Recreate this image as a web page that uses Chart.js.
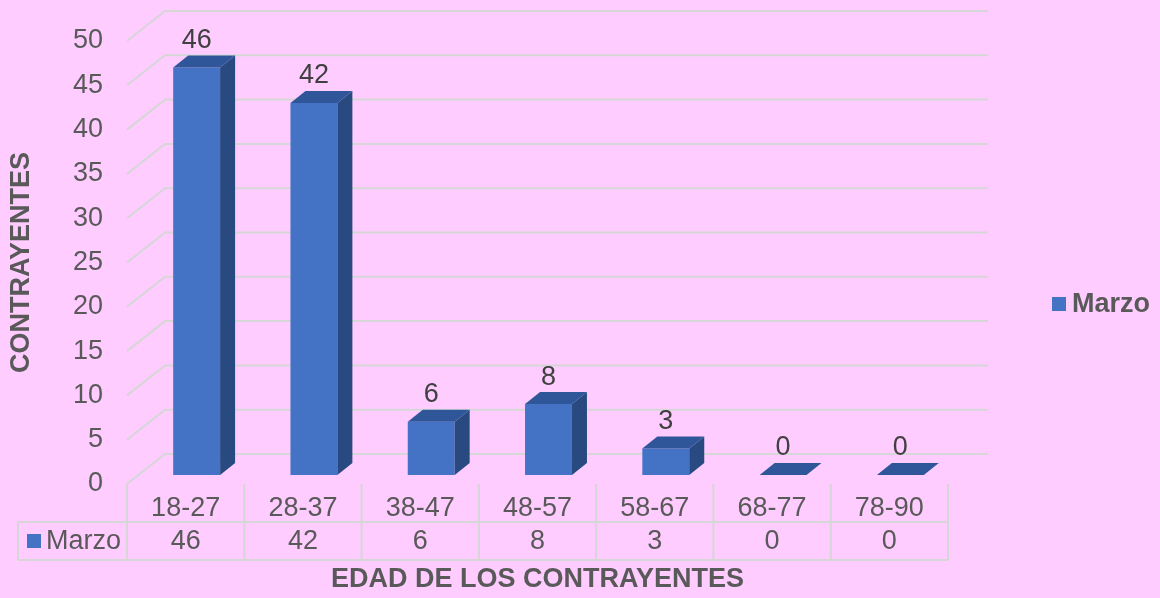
<!DOCTYPE html>
<html>
<head>
<meta charset="utf-8">
<script src="https://cdn.jsdelivr.net/npm/chart.js@4.4.1/dist/chart.umd.min.js"></script>
<style>
  html, body { margin: 0; padding: 0; background: #ffccff; }
  #wrap { width: 1160px; height: 598px; }
</style>
</head>
<body>
<div id="wrap"><canvas id="edadChart" width="1160" height="598"></canvas></div>
<script>
// datos
const categorias = ["18-27", "28-37", "38-47", "48-57", "58-67", "68-77", "78-90"];
const marzo = [46, 42, 6, 8, 3, 0, 0];
const serieNombre = "Marzo";
const yTicks = [0, 5, 10, 15, 20, 25, 30, 35, 40, 45, 50];

const FONT = "'Liberation Sans', Arial, sans-serif";
const FS = 27;
const TXT = "#595959";
const GRID = "#d6d6d6";

// desplazamientos 3D
const BX = 11, BY = -9;     // plano de las barras
const DX = 15, DY = 12;     // profundidad de la barra
const WX = 38, WY = 30;     // pared del fondo

const tresD = {
  id: "tresD",
  beforeDraw(chart) {
    const c = chart.ctx;
    c.save();
    c.fillStyle = "#ffccff";
    c.fillRect(0, 0, chart.width, chart.height);
    c.restore();
  },
  beforeDatasetsDraw(chart) {
    const c = chart.ctx;
    const y = chart.scales.y;
    const a = chart.chartArea;
    // lineas de la pared del fondo
    c.save();
    c.strokeStyle = GRID;
    c.lineWidth = 2;
    yTicks.forEach(v => {
      const py = y.getPixelForValue(v);
      c.beginPath();
      c.moveTo(a.left, py);
      c.lineTo(a.left + WX, py - WY);
      c.lineTo(a.right + WX + 2, py - WY);
      c.stroke();
    });
    c.restore();
    c.save();
    c.translate(BX, BY);
  },
  afterDatasetsDraw(chart) {
    const c = chart.ctx;
    c.restore();
    const meta = chart.getDatasetMeta(0);
    c.save();
    meta.data.forEach((bar, i) => {
      const l = bar.x - bar.width / 2 + BX;
      const r = bar.x + bar.width / 2 + BX;
      const t = bar.y + BY;
      const b = bar.base + BY;
      // lateral
      if (b - t > 0.5) {
        c.fillStyle = "#284a80";
        c.beginPath();
        c.moveTo(r, t);
        c.lineTo(r + DX, t - DY);
        c.lineTo(r + DX, b - DY);
        c.lineTo(r, b);
        c.closePath();
        c.fill();
      }
      // tapa
      c.fillStyle = "#30569a";
      c.beginPath();
      c.moveTo(l, t);
      c.lineTo(r, t);
      c.lineTo(r + DX, t - DY);
      c.lineTo(l + DX, t - DY);
      c.closePath();
      c.fill();
      // etiqueta
      c.fillStyle = "#404040";
      c.font = FS + "px " + FONT;
      c.textAlign = "center";
      c.textBaseline = "middle";
      c.fillText(String(marzo[i]), bar.x + BX, t - 27);
    });
    c.restore();
  },
  afterDraw(chart) {
    const c = chart.ctx;
    const x = chart.scales.x;
    const a = chart.chartArea;
    const n = categorias.length;
    const colW = (a.right - a.left) / n;
    const r1 = 522, r2 = 560;
    c.save();
    c.strokeStyle = GRID;
    c.lineWidth = 2;
    c.beginPath();
    c.moveTo(18, r1); c.lineTo(a.right, r1);
    c.moveTo(18, r2); c.lineTo(a.right, r2);
    c.moveTo(18, r1); c.lineTo(18, r2);
    for (let i = 0; i <= n; i++) {
      const px = a.left + i * colW;
      c.moveTo(px, a.bottom); c.lineTo(px, r2);
    }
    c.stroke();
    // fila de valores
    c.fillStyle = "#4472c4";
    c.fillRect(27, 534, 14, 14);
    c.fillStyle = TXT;
    c.font = FS + "px " + FONT;
    c.textBaseline = "middle";
    c.textAlign = "left";
    c.fillText(serieNombre, 46, 542);
    c.textAlign = "center";
    marzo.forEach((v, i) => {
      c.fillText(String(v), x.getPixelForValue(i), 542);
    });
    // leyenda
    c.fillStyle = "#4472c4";
    c.fillRect(1052, 297, 14, 14);
    c.fillStyle = TXT;
    c.font = "bold " + FS + "px " + FONT;
    c.textAlign = "left";
    c.fillText(serieNombre, 1072, 305);
    c.restore();
  }
};

new Chart(document.getElementById("edadChart").getContext("2d"), {
  type: "bar",
  data: {
    labels: categorias,
    datasets: [{
      label: serieNombre,
      data: marzo,
      backgroundColor: "#4472c4",
      borderWidth: 0,
      barPercentage: 0.4,
      categoryPercentage: 1.0
    }]
  },
  options: {
    responsive: false,
    animation: false,
    layout: { padding: { left: 0, top: 41, right: 212, bottom: 0 } },
    plugins: {
      legend: { display: false },
      tooltip: { enabled: false }
    },
    scales: {
      x: {
        grid: { display: false, drawTicks: false },
        border: { display: false },
        ticks: { color: TXT, font: { family: FONT, size: FS }, padding: 8, maxRotation: 0 },
        title: {
          display: true,
          text: "EDAD DE LOS CONTRAYENTES",
          color: TXT,
          font: { family: FONT, size: FS, weight: "bold" },
          padding: { top: 0, bottom: 2 }
        },
        afterFit(s) { s.height = 114; }
      },
      y: {
        min: 0,
        max: 50,
        grid: { display: false, drawTicks: false },
        border: { display: false },
        ticks: { stepSize: 5, color: TXT, font: { family: FONT, size: FS }, padding: 24 },
        title: {
          display: true,
          text: "CONTRAYENTES",
          color: TXT,
          font: { family: FONT, size: FS, weight: "bold" },
          padding: { top: 5, bottom: 0 }
        },
        afterFit(s) { s.width = 127; }
      }
    }
  },
  plugins: [tresD]
});
</script>
</body>
</html>
